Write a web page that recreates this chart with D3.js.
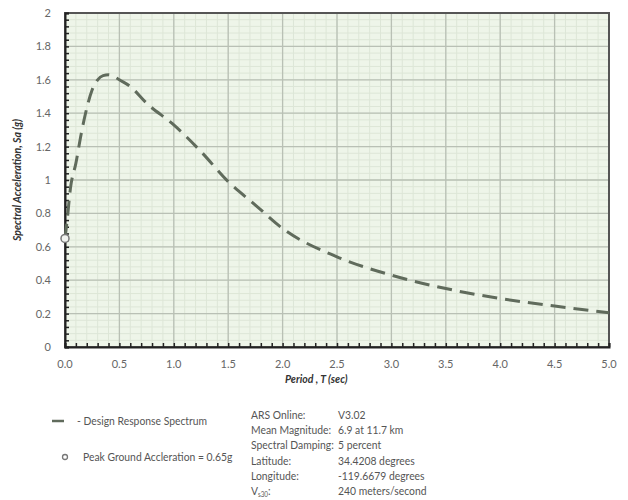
<!DOCTYPE html>
<html>
<head>
<meta charset="utf-8">
<script src="https://cdn.jsdelivr.net/npm/d3@7"></script>
<style>
  html, body { margin: 0; padding: 0; background: #ffffff; }
  svg { display: block; font-family: Lato, "Liberation Sans", sans-serif; }
</style>
</head>
<body>
<div id="chart"></div>
<script>
// Design response spectrum
const periods = [0, 0.02, 0.05, 0.1, 0.15, 0.2, 0.25, 0.3, 0.35, 0.4, 0.45, 0.5, 0.6, 0.75, 1.0, 1.25, 1.5, 1.75, 2.0, 2.5, 3.0, 3.5, 4.0, 4.5, 5.0];
const spectralAcc = [0.65, 0.76, 0.95, 1.1, 1.28, 1.43, 1.54, 1.60, 1.625, 1.63, 1.62, 1.60, 1.56, 1.46, 1.33, 1.17, 0.99, 0.85, 0.71, 0.54, 0.43, 0.35, 0.29, 0.245, 0.205];
const pga = 0.65;

const xTicks = [0, 0.5, 1, 1.5, 2, 2.5, 3, 3.5, 4, 4.5, 5];
const yTicks = [0, 0.2, 0.4, 0.6, 0.8, 1, 1.2, 1.4, 1.6, 1.8, 2];

const infoLabels = ['ARS Online:', 'Mean Magnitude:', 'Spectral Damping:', 'Latitude:', 'Longitude:', 'V'];
const infoValues = ['V3.02', ' 6.9 at 11.7 km', '5 percent', '34.4208 degrees', '-119.6679 degrees', '240 meters/second'];

const width = 628, height = 500;
const margin = { top: 13, right: 19, bottom: 153, left: 65 };
const innerW = width - margin.left - margin.right;
const innerH = height - margin.top - margin.bottom;

// Calibri-like narrow text: squeeze Lato horizontally
const SQUEEZE = 0.9;

const svg = d3.select('#chart').append('svg')
  .attr('width', width)
  .attr('height', height);

const x = d3.scaleLinear().domain([0, 5]).range([0, innerW]);
const y = d3.scaleLinear().domain([0, 2]).range([innerH, 0]);

const g = svg.append('g').attr('transform', `translate(${margin.left},${margin.top})`);

// plot background
g.append('rect')
  .attr('width', innerW)
  .attr('height', innerH)
  .attr('fill', '#eef5e9');

// minor grid
const xMinor = d3.range(0, 5.0001, 0.1);
const yMinor = d3.range(0, 2.0001, 0.04);
g.append('g').selectAll('line').data(xMinor).join('line')
  .attr('x1', d => x(d)).attr('x2', d => x(d))
  .attr('y1', 0).attr('y2', innerH)
  .attr('stroke', '#dde6d7').attr('stroke-width', 1);
g.append('g').selectAll('line').data(yMinor).join('line')
  .attr('y1', d => y(d)).attr('y2', d => y(d))
  .attr('x1', 0).attr('x2', innerW)
  .attr('stroke', '#dde6d7').attr('stroke-width', 1);

// major grid
g.append('g').selectAll('line').data(xTicks).join('line')
  .attr('x1', d => x(d)).attr('x2', d => x(d))
  .attr('y1', 0).attr('y2', innerH)
  .attr('stroke', '#b9c0b5').attr('stroke-width', 1.3);
g.append('g').selectAll('line').data(yTicks).join('line')
  .attr('y1', d => y(d)).attr('y2', d => y(d))
  .attr('x1', 0).attr('x2', innerW)
  .attr('stroke', '#b9c0b5').attr('stroke-width', 1.3);

// frame
g.append('rect')
  .attr('width', innerW)
  .attr('height', innerH)
  .attr('fill', 'none')
  .attr('stroke', '#555')
  .attr('stroke-width', 2);

// axes with inward minor ticks
const xAxis = g.append('g')
  .attr('transform', `translate(0,${innerH})`)
  .call(d3.axisBottom(x).tickValues(xMinor).tickSize(-4).tickFormat(''));
xAxis.select('.domain').attr('stroke', '#222').attr('stroke-width', 2);
xAxis.selectAll('.tick line').attr('stroke', '#222').attr('stroke-width', 1.5);

const yAxis = g.append('g')
  .call(d3.axisLeft(y).tickValues(yMinor).tickSize(-4).tickFormat(''));
yAxis.select('.domain').attr('stroke', '#222').attr('stroke-width', 2);
yAxis.selectAll('.tick line').attr('stroke', '#222').attr('stroke-width', 1.5);

// tick labels
g.append('g').selectAll('text').data(xTicks).join('text')
  .attr('x', d => x(d))
  .attr('y', innerH + 21)
  .attr('text-anchor', 'middle')
  .attr('font-size', 11)
  .attr('fill', '#666')
  .text(d => d.toFixed(1));

g.append('g').selectAll('text').data(yTicks).join('text')
  .attr('x', -14)
  .attr('y', d => y(d) + 4)
  .attr('text-anchor', 'end')
  .attr('font-size', 11)
  .attr('fill', '#666')
  .text(d => d3.format('~g')(d));

// axis titles
g.append('text')
  .attr('x', x(2.31))
  .attr('y', innerH + 36)
  .attr('text-anchor', 'middle')
  .attr('font-size', 10.5)
  .attr('font-weight', 'bold')
  .attr('font-style', 'italic')
  .attr('fill', '#333')
  .text('Period , T  (sec)');

svg.append('text')
  .attr('transform', `translate(21,${margin.top + innerH / 2}) rotate(-90)`)
  .attr('text-anchor', 'middle')
  .attr('font-size', 10.5)
  .attr('font-weight', 'bold')
  .attr('font-style', 'italic')
  .attr('fill', '#333')
  .text('Spectral Acceleration, Sa (g)');

// spectrum curve
const line = d3.line()
  .x((d, i) => x(periods[i]))
  .y(d => y(d))
  .curve(d3.curveMonotoneX);

g.append('path')
  .datum(spectralAcc)
  .attr('d', line)
  .attr('fill', 'none')
  .attr('stroke', '#606b5c')
  .attr('stroke-width', 3)
  .attr('stroke-dasharray', '15,8');

// peak ground acceleration marker
g.append('circle')
  .attr('cx', x(0))
  .attr('cy', y(pga))
  .attr('r', 4)
  .attr('fill', '#f2f4f0')
  .attr('stroke', '#777')
  .attr('stroke-width', 1.5);

// legend
svg.append('line')
  .attr('x1', 52).attr('x2', 64).attr('y1', 421).attr('y2', 421)
  .attr('stroke', '#606b5c').attr('stroke-width', 2.5);
svg.append('circle')
  .attr('cx', 65).attr('cy', 457).attr('r', 2.5)
  .attr('fill', 'none').attr('stroke', '#777').attr('stroke-width', 1.3);

const legend = svg.append('g')
  .attr('transform', `translate(77,0) scale(${SQUEEZE},1)`)
  .attr('fill', '#555').attr('font-size', 11.5);
legend.append('text').attr('x', 0).attr('y', 425).text('- Design Response Spectrum');
legend.append('text').attr('x', 6 / SQUEEZE).attr('y', 461).text('Peak Ground Accleration = 0.65g');

// site info block
const info = svg.append('g')
  .attr('transform', `translate(251,0) scale(${SQUEEZE},1)`)
  .attr('fill', '#555').attr('font-size', 11.5);
infoLabels.forEach((lab, i) => {
  const yy = 419 + i * 15.2;
  const t = info.append('text').attr('x', 0).attr('y', yy).text(lab);
  if (lab === 'V') {
    t.append('tspan').attr('font-size', 7).attr('dy', 2).text('s30');
    t.append('tspan').attr('dy', -2).text(':');
  }
  info.append('text').attr('x', 87 / SQUEEZE).attr('y', yy).text(infoValues[i]);
});
</script>
</body>
</html>
